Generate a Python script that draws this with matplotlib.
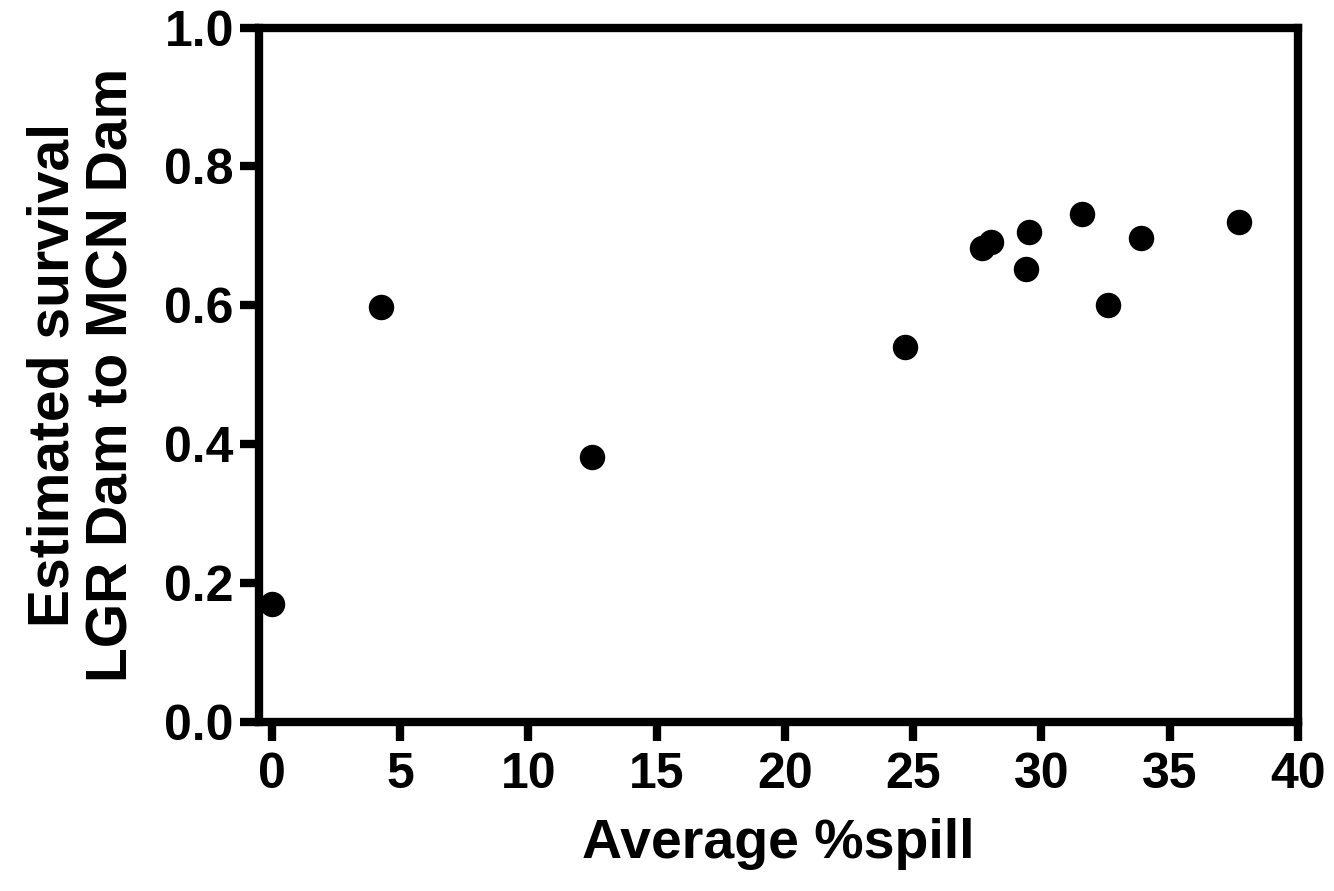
import matplotlib
matplotlib.use("Agg")
import matplotlib.pyplot as plt

# average % spill vs estimated survival (LGR Dam -> MCN Dam)
spill = [0.0, 4.25, 12.5, 24.7, 27.7, 28.05, 29.5, 29.4, 31.6, 32.6, 33.9, 37.7]
survival = [0.169, 0.597, 0.382, 0.540, 0.683, 0.691, 0.705, 0.652, 0.731, 0.600, 0.697, 0.720]

xticks = [0, 5, 10, 15, 20, 25, 30, 35, 40]
yticks = [0.0, 0.2, 0.4, 0.6, 0.8, 1.0]

plt.rcParams['font.family'] = ['Liberation Sans', 'DejaVu Sans']
plt.rcParams['font.weight'] = 'bold'

fig = plt.figure(figsize=(13.34, 8.91), dpi=100)
ax = fig.add_axes([0.194, 0.190, 0.779, 0.779])

ax.scatter(spill, survival, s=300, color='black', zorder=3, clip_on=False)

ax.set_xlim(-0.5, 40)
ax.set_ylim(0, 1.0)
ax.set_xticks(xticks)
ax.set_yticks(yticks)
ax.set_yticklabels([f"{v:.1f}" for v in yticks])

for sp in ax.spines.values():
    sp.set_linewidth(6)
    sp.set_capstyle('projecting')

ax.tick_params(axis='both', length=14, width=6, labelsize=36, pad=4)
ax.tick_params(axis='x', pad=8)
for t in ax.xaxis.get_ticklines() + ax.yaxis.get_ticklines():
    t.set_solid_capstyle('round')

ax.set_xlabel("Average %spill", fontsize=40, fontweight='bold', labelpad=14)
ax.set_ylabel("Estimated survival\nLGR Dam to MCN Dam", fontsize=41, fontweight='bold',
              labelpad=18, linespacing=1.12)

fig.savefig("out.png", dpi=100)
